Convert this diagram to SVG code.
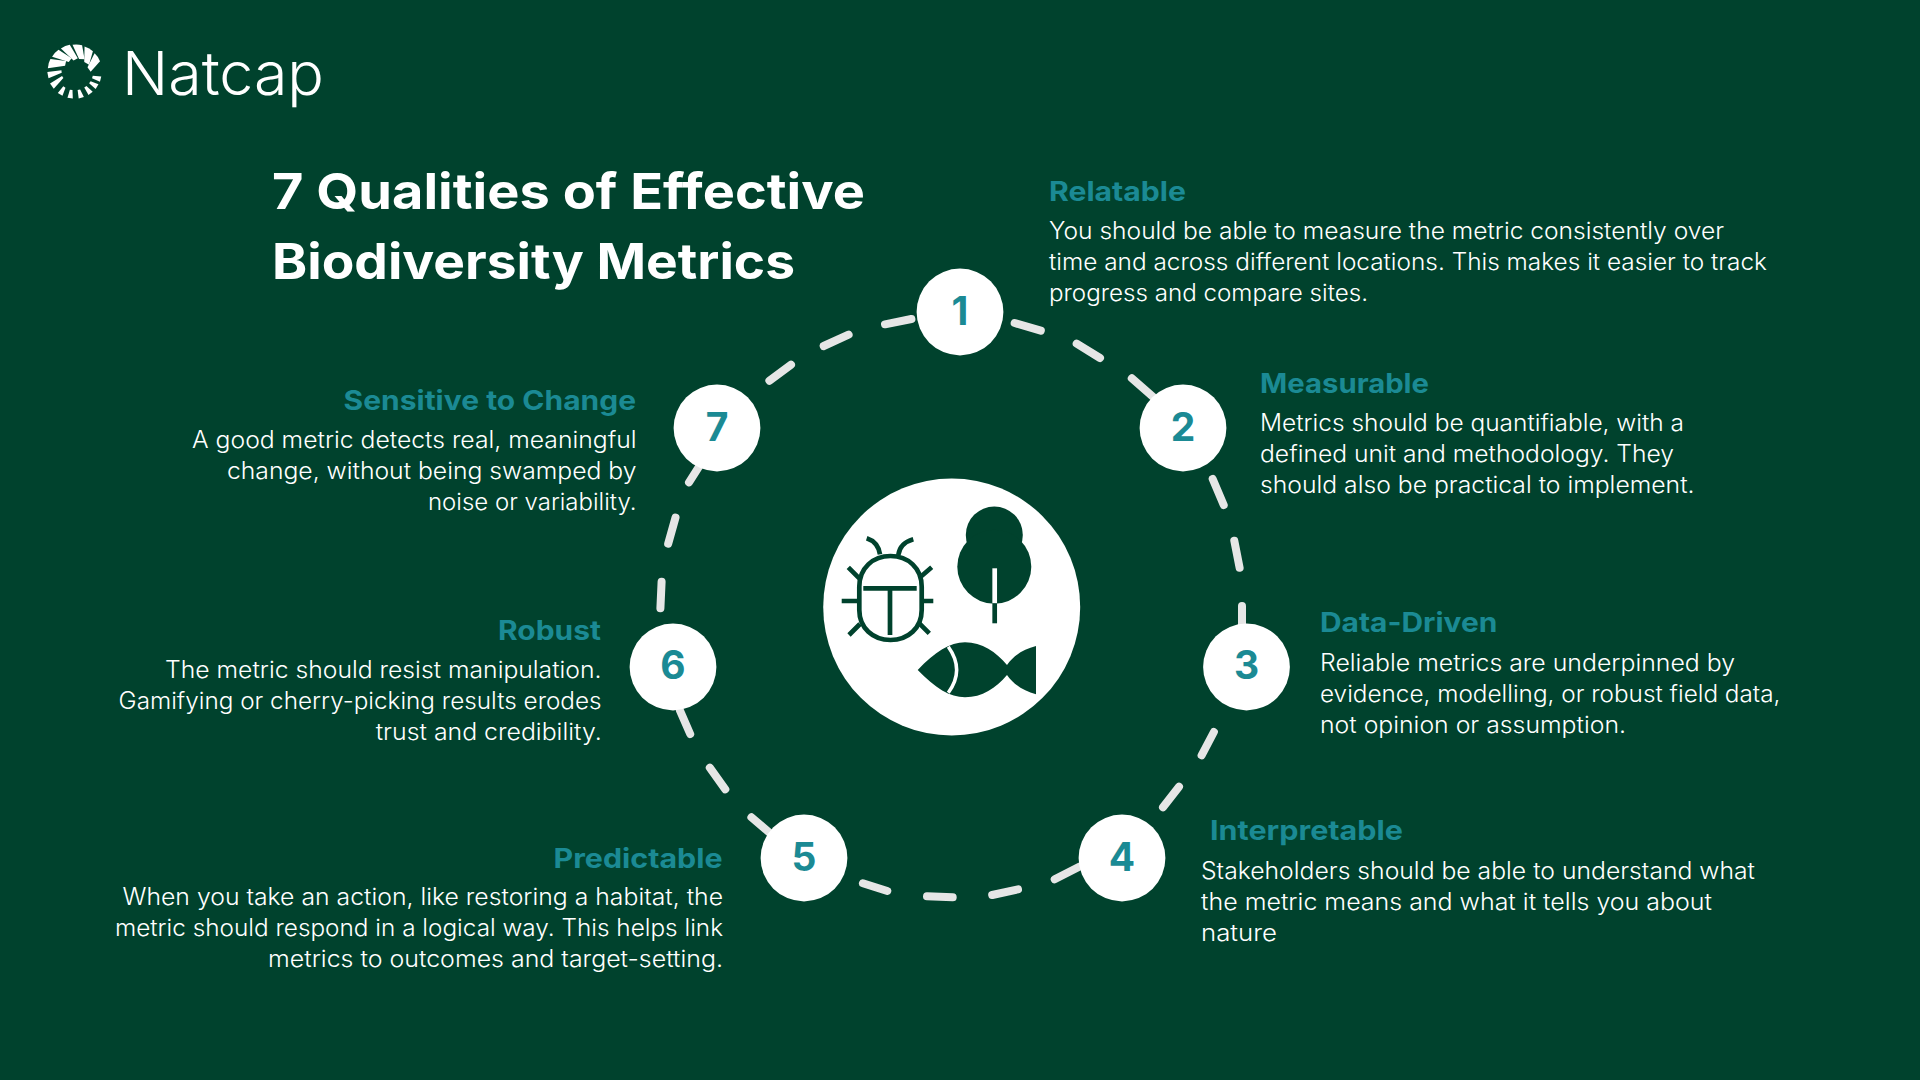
<svg xmlns="http://www.w3.org/2000/svg" xmlns:xlink="http://www.w3.org/1999/xlink" width="1920" height="1080" viewBox="0 0 1920 1080">
<style>
text{font-family:"Inter","Noto Sans","Liberation Sans",sans-serif}
.t{font-size:50px;font-weight:700;fill:#fff}
.h{font-size:27px;font-weight:700;fill:#1b8a94}
.b{font-size:23.5px;font-weight:300;fill:#fff}
.n{font-size:39px;font-weight:700;fill:#1b8a94;text-anchor:middle}
.c{fill:#fff}
.d{stroke:#e6e6e6;stroke-width:8;stroke-linecap:round;fill:none}
.k{stroke:#00422d;stroke-width:4.7;fill:none}
.bl{fill:#fff}
</style>
<defs>
<path id="big" d="M-5 -26.6Q0 -28 4.6 -27L8.5 -13.5L3 -13.2Z"/>
<path id="big2" d="M-5 -26.6Q0 -28 4.6 -27L7.5 -11.5L2.8 -11Z"/>
<path id="mid" d="M-3.4 -26.8L3 -27.2L3 -13L0.6 -13Z"/>
<path id="sm" d="M-2.8 -26.8L2.6 -27L1.6 -18.5L-1 -18.5Z"/>
</defs>
<rect width="1920" height="1080" fill="#00422d"/>
<g id="logo">
<g class="bl" transform="translate(74.7 71.7)">
<use xlink:href="#big" href="#big" transform="rotate(58)"/>
<use xlink:href="#big" href="#big" transform="rotate(32)"/>
<use xlink:href="#big" href="#big" transform="rotate(6)"/>
<use xlink:href="#big2" href="#big2" transform="rotate(-20)"/>
<use xlink:href="#big2" href="#big2" transform="rotate(-46)"/>
<use xlink:href="#big2" href="#big2" transform="rotate(-72)"/>
<use xlink:href="#mid" href="#mid" transform="rotate(-97)"/>
<use xlink:href="#mid" href="#mid" transform="rotate(-122)"/>
<use xlink:href="#sm" href="#sm" transform="rotate(-147)"/>
<use xlink:href="#sm" href="#sm" transform="rotate(-170)"/>
<use xlink:href="#sm" href="#sm" transform="rotate(166)"/>
<use xlink:href="#sm" href="#sm" transform="rotate(144)"/>
<use xlink:href="#sm" href="#sm" transform="rotate(124)"/>
<use xlink:href="#sm" href="#sm" transform="rotate(106)"/>
</g>
<text x="122" y="95" font-size="60" font-weight="350" fill="#fff" textLength="202" lengthAdjust="spacingAndGlyphs">Natcap</text>
</g>
<g id="title">
<text class="t" x="272" y="209" textLength="593" lengthAdjust="spacingAndGlyphs">7 Qualities of Effective</text>
<text class="t" x="272" y="279" textLength="523" lengthAdjust="spacingAndGlyphs">Biodiversity Metrics</text>
</g>
<g id="connectors">
<path class="d" d="M885 324.3L911.4 319M823.7 346L848.6 334.7M769.4 380.7L791 364.7M689 482.3L699 466.7M668.2 543.7L675.5 517.7M660.4 608.3L661.6 581.7M1014.7 323L1040.8 330.7M1076.7 343.7L1100 358M1131.8 378.3L1153.5 397.3M1212.7 479L1223.7 505M1234.3 540.7L1239.6 567.7M1242 606L1242 630M1213.9 732L1201.6 755.3M1179 786.7L1163 807.3M1079.2 866.7L1054.7 879.3M1018 889.3L992.2 895M952.7 897.3L927 896.3M887.3 891L862.9 883.3M769 832.3L751.4 817.3M725.3 789.3L709.8 767.7M690.2 734L680 710.7"/>
</g>
<g id="center-icon">
<circle class="c" cx="951.7" cy="607" r="128.5"/>
<g id="beetle">
<path class="k" d="M859.3 586.7C859.3 568 873 556 890.5 556C908 556 921.7 568 921.7 586.7V610C921.7 628 908 640 890.5 640C873 640 859.3 628 859.3 610Z"/>
<path class="k" d="M863.3 588.3H916.7M890 588.3V635M841.7 601H858.3M921.7 601H933.3M848.3 567.3L859.3 578.3M931.7 567.3L920.7 576.7M849 635L860 624M929.3 633.3L919.3 623.3M866.7 538.3Q878 542 880 554.3M913.3 539.3Q900 543 898.3 555"/>
</g>
<g id="tree">
<circle cx="994.3" cy="535" r="28.5" fill="#00422d"/>
<circle cx="994.3" cy="566.7" r="37" fill="#00422d"/>
<path d="M994.7 568.3V603.3" stroke="#fff" stroke-width="4.7"/>
<path class="k" d="M994.7 603.3V623.3"/>
</g>
<g id="fish">
<path fill="#00422d" d="M917.7 670C935 652 950 642.3 965 642.3C982 642.3 996 652 1007 665C1014 655 1024 649 1036 646V694.3C1024 691 1014 685 1007 675C996 688 982 697.3 965 697.3C950 697.3 935 688 917.7 670Z"/>
<path d="M948.3 646.7Q965 670 948.3 692.7" stroke="#fff" stroke-width="3.5" fill="none"/>
</g>
</g>
<g id="node-1">
<circle class="c" cx="960" cy="312" r="43.4"/><text class="n" x="960" y="325">1</text>
<text class="h" x="1049" y="200.7" textLength="137" lengthAdjust="spacingAndGlyphs">Relatable</text>
<text class="b" x="1049" y="239" textLength="675" lengthAdjust="spacingAndGlyphs">You should be able to measure the metric consistently over</text>
<text class="b" x="1049" y="270" textLength="718" lengthAdjust="spacingAndGlyphs">time and across different locations. This makes it easier to track</text>
<text class="b" x="1049" y="301" textLength="319" lengthAdjust="spacingAndGlyphs">progress and compare sites.</text>
</g>
<g id="node-2">
<circle class="c" cx="1183" cy="428" r="43.4"/><text class="n" x="1183" y="441">2</text>
<text class="h" x="1260" y="392.7" textLength="169" lengthAdjust="spacingAndGlyphs">Measurable</text>
<text class="b" x="1260" y="431" textLength="424" lengthAdjust="spacingAndGlyphs">Metrics should be quantifiable, with a</text>
<text class="b" x="1260" y="462" textLength="414" lengthAdjust="spacingAndGlyphs">defined unit and methodology. They</text>
<text class="b" x="1260" y="493" textLength="434.5" lengthAdjust="spacingAndGlyphs">should also be practical to implement.</text>
</g>
<g id="node-3">
<circle class="c" cx="1246.5" cy="667" r="43.4"/><text class="n" x="1246.5" y="679">3</text>
<text class="h" x="1320" y="632" textLength="177.5" lengthAdjust="spacingAndGlyphs">Data-Driven</text>
<text class="b" x="1320" y="671" textLength="415" lengthAdjust="spacingAndGlyphs">Reliable metrics are underpinned by</text>
<text class="b" x="1320" y="702" textLength="460.5" lengthAdjust="spacingAndGlyphs">evidence, modelling, or robust field data,</text>
<text class="b" x="1320" y="733" textLength="306" lengthAdjust="spacingAndGlyphs">not opinion or assumption.</text>
</g>
<g id="node-4">
<circle class="c" cx="1122" cy="858" r="43.4"/><text class="n" x="1122" y="871">4</text>
<text class="h" x="1210" y="840" textLength="193" lengthAdjust="spacingAndGlyphs">Interpretable</text>
<text class="b" x="1201" y="878.5" textLength="554" lengthAdjust="spacingAndGlyphs">Stakeholders should be able to understand what</text>
<text class="b" x="1201" y="909.5" textLength="511" lengthAdjust="spacingAndGlyphs">the metric means and what it tells you about</text>
<text class="b" x="1201" y="940.5" textLength="76" lengthAdjust="spacingAndGlyphs">nature</text>
</g>
<g id="node-5">
<circle class="c" cx="804" cy="858" r="43.4"/><text class="n" x="804" y="871">5</text>
<text class="h" x="553.5" y="867.5" textLength="169" lengthAdjust="spacingAndGlyphs">Predictable</text>
<text class="b" x="122.5" y="905" textLength="600.5" lengthAdjust="spacingAndGlyphs">When you take an action, like restoring a habitat, the</text>
<text class="b" x="115" y="936" textLength="608" lengthAdjust="spacingAndGlyphs">metric should respond in a logical way. This helps link</text>
<text class="b" x="268" y="967" textLength="455" lengthAdjust="spacingAndGlyphs">metrics to outcomes and target-setting.</text>
</g>
<g id="node-6">
<circle class="c" cx="673" cy="667" r="43.4"/><text class="n" x="673" y="679">6</text>
<text class="h" x="498" y="640" textLength="103" lengthAdjust="spacingAndGlyphs">Robust</text>
<text class="b" x="165" y="678" textLength="436.5" lengthAdjust="spacingAndGlyphs">The metric should resist manipulation.</text>
<text class="b" x="118.6" y="709" textLength="483" lengthAdjust="spacingAndGlyphs">Gamifying or cherry-picking results erodes</text>
<text class="b" x="375.7" y="740" textLength="226" lengthAdjust="spacingAndGlyphs">trust and credibility.</text>
</g>
<g id="node-7">
<circle class="c" cx="717" cy="428" r="43.4"/><text class="n" x="717" y="441">7</text>
<text class="h" x="343.6" y="410" textLength="292.4" lengthAdjust="spacingAndGlyphs">Sensitive to Change</text>
<text class="b" x="192" y="448" textLength="444.5" lengthAdjust="spacingAndGlyphs">A good metric detects real, meaningful</text>
<text class="b" x="227" y="479" textLength="409.5" lengthAdjust="spacingAndGlyphs">change, without being swamped by</text>
<text class="b" x="428" y="510" textLength="208.5" lengthAdjust="spacingAndGlyphs">noise or variability.</text>
</g>
</svg>
